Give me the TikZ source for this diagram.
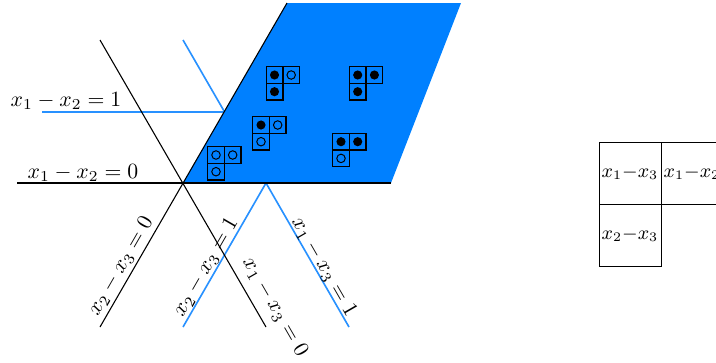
\documentclass[tikz,border=0pt]{standalone}
\begin{document}
\begin{tikzpicture}[x=0.46pt,y=-0.46pt,
  regfill/.style={fill={rgb,255:red,0;green,128;blue,255}},
  blk/.style={draw=black,line width=0.5pt},
  blu/.style={draw={rgb,255:red,40;green,145;blue,255},line width=0.75pt},
  cell/.style={draw,line width=0.6pt,minimum size=7.68pt,inner sep=0pt,outer sep=0pt},
  fulldot/.style={circle,fill=black,minimum size=4.2pt,inner sep=0pt},
  opendot/.style={circle,draw,line width=0.45pt,minimum size=3.9pt,inner sep=0pt},
  bigcell/.style={draw,line width=0.45pt,minimum size=28.52pt,inner sep=0pt,outer sep=0pt,
    font=\fontsize{8.8pt}{10pt}\selectfont},
  lab/.style={inner sep=1pt}]
\useasboundingbox (0,0) rectangle (716,362);
\clip (0,0) rectangle (716,362);
% key points
\coordinate (O) at (183,183);
\coordinate (V) at (224.6,112);
\coordinate (P) at (266,183);
\coordinate (Htl) at (287,3);
\coordinate (Htr) at (461,3);
\coordinate (Hbr) at (391,183);
\coordinate (h0l) at (17,183);
\coordinate (h1l) at (42,112);
\coordinate (a0b) at (100,327);
\coordinate (b0t) at (100,40);
\coordinate (b0b) at (266,327);
\coordinate (b1t) at (183,40);
\coordinate (b1b) at (349,327);
\coordinate (a1b) at (183,327);
% blue lines
\draw[blu] (h1l) -- (V);
\draw[blu] (b1t) -- (V);
\draw[blu] (P) -- (b1b);
\draw[blu] (a1b) -- (P);
% filled region
\fill[regfill] (O) -- (Htl) -- (Htr) -- (Hbr) -- cycle;
% black lines
\draw[blk] (h0l) -- (Hbr);
\draw[blk] (a0b) -- (Htl);
\draw[blk] (b0t) -- (b0b);
% labels
\node[lab] at (66,101) {$x_1-x_2=1$};
\node[lab] at (83,173) {$x_1-x_2=0$};
\node[lab,rotate=60] at (121,266) {$x_2-x_3=0$};
\node[lab,rotate=60] at (206,267) {$x_2-x_3=1$};
\node[lab,rotate=-60] at (275,307) {$x_1-x_3=0$};
\node[lab,rotate=-60] at (324,267) {$x_1-x_3=1$};
% tableaux
\newcommand\ytabl[5]{%
  \node[cell] (#1a) at (#2) {};
  \node[cell,anchor=west] (#1b) at (#1a.east) {};
  \node[cell,anchor=north] (#1c) at (#1a.south) {};
  \node[#3] at (#1a) {};
  \node[#4] at (#1b) {};
  \node[#5] at (#1c) {};
}
\ytabl{ta}{216,155}{opendot}{opendot}{opendot}
\ytabl{tb}{261,125}{fulldot}{opendot}{opendot}
\ytabl{tc}{274.5,75}{fulldot}{opendot}{fulldot}
\ytabl{td}{357.7,75}{fulldot}{fulldot}{fulldot}
\ytabl{te}{341,141.7}{fulldot}{fulldot}{opendot}
% big tableau
\node[bigcell] (g1) at (630,173) {$x_1{-}x_3$};
\node[bigcell,anchor=west] (g2) at (g1.east) {$x_1{-}x_2$};
\node[bigcell,anchor=north] (g3) at (g1.south) {$x_2{-}x_3$};
\end{tikzpicture}
\end{document}
